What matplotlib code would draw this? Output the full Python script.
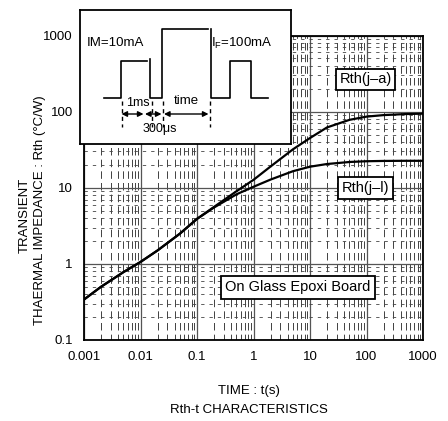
import matplotlib
matplotlib.use("Agg")
import matplotlib.pyplot as plt
from matplotlib.ticker import FixedLocator, NullFormatter, LogLocator

plt.rcParams['font.family'] = ['Liberation Sans', 'DejaVu Sans']

# ---- data ----
t = [0.001, 0.002, 0.005, 0.01, 0.02, 0.05, 0.1, 0.2, 0.5, 1, 2, 5, 10, 20, 50, 100, 200, 500, 1000]
rth_ja = [0.34, 0.5, 0.78, 1.06, 1.5, 2.5, 3.9, 5.6, 9.0, 12.7, 19, 32, 45, 62, 78, 86, 90, 93, 94]
rth_jl = [0.34, 0.5, 0.78, 1.06, 1.5, 2.5, 3.9, 5.5, 8.2, 10.3, 12.8, 16.5, 18.9, 20.5, 21.8, 22.3, 22.5, 22.6, 22.6]

x_ticks = [0.001, 0.01, 0.1, 1, 10, 100, 1000]
x_tick_labels = ["0.001", "0.01", "0.1", "1", "10", "100", "1000"]
y_ticks = [0.1, 1, 10, 100, 1000]
y_tick_labels = ["0.1", "1", "10", "100", "1000"]

# inset waveform (diagram coordinates, inset pixel frame)
wave_segments = [
    ([104, 121, 121, 147], [98, 98, 61, 61]),
    ([150, 150, 162, 162, 208], [59, 98, 98, 29, 29]),
    ([211, 211, 230, 230, 251, 251, 268], [29, 98, 98, 61, 61, 98, 98]),
]
dash_x = [121.5, 152, 162.5, 209.5]
arrows = [(121.5, 143.5), (145, 161.5), (164, 208.5)]

W, H = 448, 421
fig = plt.figure(figsize=(W / 100, H / 100), dpi=100)
L, R, T, B = 84, 423, 35.5, 340
ax = fig.add_axes([L / W, 1 - B / H, (R - L) / W, (B - T) / H])
ax.set_xscale('log')
ax.set_yscale('log')
ax.set_xlim(0.001, 1000)
ax.set_ylim(0.1, 1000)

ax.xaxis.set_major_locator(FixedLocator(x_ticks))
ax.yaxis.set_major_locator(FixedLocator(y_ticks))
ax.set_xticklabels(x_tick_labels)
ax.set_yticklabels(y_tick_labels)
ax.xaxis.set_minor_locator(LogLocator(base=10, subs=range(2, 10), numticks=20))
ax.yaxis.set_minor_locator(LogLocator(base=10, subs=range(2, 10), numticks=20))
ax.xaxis.set_minor_formatter(NullFormatter())
ax.yaxis.set_minor_formatter(NullFormatter())
ax.tick_params(which='both', length=0)
ax.tick_params(axis='both', labelsize=9.5, pad=8)

ax.grid(which='major', color='#555555', lw=0.9, ls='-')
ax.grid(which='minor', axis='x', color='#222222', lw=0.6, ls=(2, (9, 5)))
ax.grid(which='minor', axis='y', color='#444444', lw=0.6, ls=(0, (4, 6)))
for s in ax.spines.values():
    s.set_linewidth(1.3)

ax.plot(t, rth_ja, color='black', lw=1.6, zorder=3)
ax.plot(t, rth_jl, color='black', lw=1.6, zorder=3)

box = dict(boxstyle='square,pad=0.25', fc='white', ec='black', lw=1.3)
ax.text(10 ** ((365.5 - L) / ((R - L) / 6) - 3), 10 ** ((B - 79.5) / ((B - T) / 4) - 1),
        "Rth(j\u2013a)", fontsize=10.5, ha='center', va='center', bbox=box, zorder=5)
ax.text(10 ** ((365.5 - L) / ((R - L) / 6) - 3), 10 ** ((B - 188) / ((B - T) / 4) - 1),
        "Rth(j\u2013l)", fontsize=10.5, ha='center', va='center', bbox=box, zorder=5)
ax.text(10 ** ((298 - L) / ((R - L) / 6) - 3), 10 ** ((B - 287.5) / ((B - T) / 4) - 1),
        "On Glass Epoxi Board", fontsize=10.5, ha='center', va='center',
        bbox=dict(boxstyle='square,pad=0.3', fc='white', ec='black', lw=1.3), zorder=5)

# axis titles
fig.text(25 / W, 1 - 215 / H, "TRANSIENT", rotation=90, ha='center', va='center', fontsize=9.5)
fig.text(40 / W, 1 - 210 / H, "THAERMAL IMPEDANCE : Rth (\u00b0C/W)", rotation=90,
         ha='center', va='center', fontsize=9.5)
fig.text(249 / W, 1 - 391 / H, "TIME : t(s)", ha='center', va='center', fontsize=9.5)
fig.text(249 / W, 1 - 410 / H, "Rth-t CHARACTERISTICS", ha='center', va='center', fontsize=9.5)

# inset
IL, IR, IT, IB = 80, 291, 10, 144
ins = fig.add_axes([IL / W, 1 - IB / H, (IR - IL) / W, (IB - IT) / H])
ins.set_xlim(IL, IR)
ins.set_ylim(IB, IT)
ins.set_xticks([])
ins.set_yticks([])
ins.set_facecolor('white')
for s in ins.spines.values():
    s.set_linewidth(1.3)
for xs, ys in wave_segments:
    ins.plot(xs, ys, color='black', lw=1.2)
for dx in dash_x:
    ins.plot([dx, dx], [101, 127], color='black', lw=1.0, ls=(0, (3, 2.5)))
for a, b in arrows:
    ins.annotate("", xy=(a, 114), xytext=(b, 114),
                 arrowprops=dict(arrowstyle='<|-|>', color='black', lw=1.0,
                                 mutation_scale=8, shrinkA=0, shrinkB=0))
ins.text(115, 43, "IM=10mA", ha='center', va='center', fontsize=9.5)
ins.text(242, 43, "I$_\\mathregular{F}$=100mA", ha='center', va='center', fontsize=9.5)
ins.text(138, 103, "1ms", ha='center', va='center', fontsize=9)
ins.text(186, 101, "time", ha='center', va='center', fontsize=9.5)
ins.text(160, 129, "300\u03bcs", ha='center', va='center', fontsize=9)

fig.savefig("out.png", dpi=100)
